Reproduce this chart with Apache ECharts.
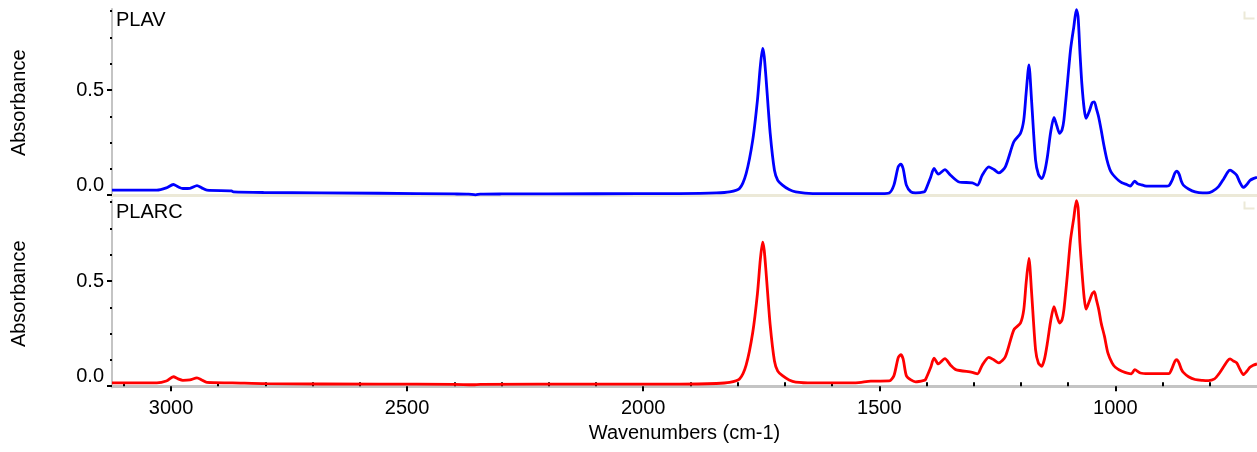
<!DOCTYPE html>
<html>
<head>
<meta charset="utf-8">
<script src="https://cdn.jsdelivr.net/npm/echarts@6/dist/echarts.min.js"></script>
<style>
  html, body { margin: 0; padding: 0; background: #ffffff; }
  #chart { width: 1257px; height: 452px; }
</style>
</head>
<body>
<div id="chart"></div>
<script>
// ---- FTIR spectra: PLAV (top) and PLARC (bottom) ----
const panelNames = ['PLAV', 'PLARC'];
const xAxisTitle = 'Wavenumbers (cm-1)';
const yAxisTitle = 'Absorbance';

const xMajorTicks = [3000, 2500, 2000, 1500, 1000];
const xMinorTicks = [800, 900, 1100, 1200, 1300, 1400, 1600, 1700, 1800, 1900,
                     2100, 2200, 2300, 2400, 2600, 2700, 2800, 2900, 3100];
const yMajorTicks = [0, 0.5];
const yMinorTicks = [0.125, 0.25, 0.375, 0.625, 0.75, 0.875];

const plavWavenumbers = [
  3125, 3118, 3030, 3010, 2995, 2985, 2975, 2960, 2945, 2935, 2924, 2872, 2868, 2804, 2560,
  2400, 2370, 2355, 2345, 2300, 2100, 1923, 1845, 1817, 1796, 1782, 1768, 1758, 1752, 1747,
  1743.6, 1739, 1731, 1722, 1715, 1705, 1691, 1677, 1641, 1494, 1479, 1469, 1460, 1454.5, 1449.5,
  1442.6, 1433, 1423, 1405, 1402, 1391, 1384, 1375, 1361, 1349, 1331, 1303, 1292, 1282, 1268,
  1257, 1247, 1233, 1215, 1201, 1194, 1189, 1183, 1177.5, 1169, 1163, 1156, 1150, 1144, 1137,
  1130, 1124, 1118, 1113, 1109, 1102, 1095, 1088, 1082.5, 1079, 1075, 1071, 1066, 1062, 1055,
  1049, 1044.5, 1040, 1035.5, 1030, 1025, 1018, 1012, 1007, 1000, 993, 986, 975, 968, 962,
  959, 953, 947, 938, 930, 900, 887, 880, 874, 870, 865, 860, 856, 845, 831,
  815, 806, 795, 782, 770, 762, 757, 750, 743, 736, 729, 722, 715, 708, 700
];
const plavAbsorbance = [
  0.024, 0.024, 0.024, 0.035, 0.051, 0.040, 0.032, 0.033, 0.046, 0.035, 0.024, 0.021, 0.016, 0.013, 0.0095,
  0.006, 0.005, 0.002, 0.005, 0.006, 0.007, 0.008, 0.011, 0.016, 0.032, 0.103, 0.262, 0.452, 0.611, 0.698,
  0.659, 0.532, 0.294, 0.119, 0.071, 0.048, 0.027, 0.016, 0.008, 0.008, 0.011, 0.048, 0.135, 0.148, 0.127,
  0.048, 0.016, 0.011, 0.016, 0.024, 0.087, 0.127, 0.100, 0.122, 0.095, 0.063, 0.059, 0.048, 0.095, 0.135,
  0.122, 0.106, 0.135, 0.254, 0.294, 0.357, 0.484, 0.619, 0.452, 0.167, 0.100, 0.079, 0.110, 0.182, 0.300,
  0.370, 0.330, 0.294, 0.310, 0.357, 0.520, 0.690, 0.800, 0.882, 0.850, 0.680, 0.532, 0.410, 0.365, 0.400,
  0.440, 0.444, 0.410, 0.373, 0.310, 0.246, 0.170, 0.125, 0.103, 0.085, 0.070, 0.059, 0.050, 0.044, 0.060,
  0.067, 0.055, 0.051, 0.045, 0.043, 0.043, 0.045, 0.070, 0.105, 0.114, 0.100, 0.065, 0.048, 0.030, 0.016,
  0.011, 0.011, 0.018, 0.040, 0.080, 0.110, 0.119, 0.110, 0.095, 0.060, 0.037, 0.050, 0.070, 0.079, 0.085
];

const plarcWavenumbers = [
  3125, 3030, 3010, 2995, 2985, 2975, 2960, 2945, 2935, 2924, 2870, 2800, 2560, 2400, 2360,
  2345, 2100, 1923, 1845, 1817, 1796, 1782, 1768, 1758, 1752, 1747, 1743.6, 1739, 1731, 1722,
  1715, 1705, 1691, 1677, 1641, 1550, 1518, 1479, 1469, 1460, 1454.5, 1449.5, 1442.6, 1433, 1423,
  1405, 1402, 1391, 1384, 1375, 1361, 1349, 1338, 1303, 1292, 1282, 1268, 1257, 1247, 1233,
  1215, 1201, 1194, 1189, 1183, 1177.5, 1169, 1163, 1156, 1150, 1144, 1137, 1130, 1124, 1118,
  1113, 1109, 1102, 1095, 1088, 1082.5, 1079, 1075, 1071, 1066, 1062, 1055, 1049, 1044.5, 1040,
  1035, 1030, 1023, 1016, 1007, 1000, 986, 966, 959, 947, 930, 887, 880, 874, 870,
  865, 860, 856, 845, 831, 815, 803, 790, 782, 770, 762, 757, 750, 743, 736,
  729, 722, 715, 708, 700
];
const plarcAbsorbance = [
  0.016, 0.016, 0.025, 0.045, 0.035, 0.028, 0.030, 0.040, 0.030, 0.018, 0.016, 0.012, 0.010, 0.009, 0.007,
  0.009, 0.010, 0.010, 0.013, 0.018, 0.034, 0.100, 0.255, 0.440, 0.600, 0.685, 0.645, 0.520, 0.290, 0.120,
  0.072, 0.050, 0.030, 0.020, 0.016, 0.016, 0.024, 0.025, 0.050, 0.135, 0.150, 0.130, 0.050, 0.030, 0.021,
  0.028, 0.032, 0.090, 0.134, 0.106, 0.131, 0.100, 0.079, 0.066, 0.059, 0.100, 0.137, 0.125, 0.111, 0.140,
  0.268, 0.300, 0.363, 0.490, 0.607, 0.450, 0.174, 0.110, 0.095, 0.130, 0.205, 0.310, 0.378, 0.335, 0.300,
  0.315, 0.363, 0.520, 0.694, 0.800, 0.882, 0.850, 0.680, 0.552, 0.420, 0.366, 0.405, 0.440, 0.449, 0.410,
  0.363, 0.300, 0.237, 0.160, 0.111, 0.090, 0.071, 0.059, 0.079, 0.063, 0.060, 0.060, 0.085, 0.118, 0.126,
  0.110, 0.080, 0.066, 0.045, 0.032, 0.028, 0.027, 0.035, 0.055, 0.095, 0.122, 0.130, 0.120, 0.111, 0.080,
  0.055, 0.070, 0.090, 0.100, 0.106
];

const seriesColors = ['#0000ff', '#ff0000'];

// ---- layout / style ----
const FONT = "'Liberation Sans', Arial, sans-serif";
const X_MIN = 700, X_MAX = 3125;
const Y_MIN = -0.006, Y_MAX = 0.885;
const AXIS_GRAY = '#c4c4c4';
const BEIGE = '#ece9d8';

const zip = (xs, ys) => xs.map((x, i) => [x, ys[i]]);

const grids = [
  { left: 112, right: 0, top: 9, height: 187.5 },
  { left: 112, right: 0, top: 200, height: 187.5 }
];

const xAxes = [
  // top panel: only a beige rule along the bottom
  {
    type: 'value', gridIndex: 0, min: X_MIN, max: X_MAX, inverse: true,
    axisLine: { show: true, lineStyle: { color: BEIGE, width: 3 } },
    axisTick: { show: false }, axisLabel: { show: false }, splitLine: { show: false }
  },
  // bottom panel: labelled axis with major ticks
  {
    type: 'value', gridIndex: 1, min: X_MIN, max: X_MAX, inverse: true,
    axisLine: { show: true, lineStyle: { color: AXIS_GRAY, width: 3 } },
    axisTick: { show: true, customValues: xMajorTicks, length: 5, lineStyle: { color: '#000', width: 2 } },
    axisLabel: {
      show: true, customValues: xMajorTicks, fontSize: 20, fontFamily: FONT, color: '#000', margin: 11,
      formatter: v => String(Math.round(v))
    },
    splitLine: { show: false },
    name: xAxisTitle, nameLocation: 'middle', nameGap: 36,
    nameTextStyle: { fontSize: 20, fontFamily: FONT, color: '#000' }
  },
  // bottom panel: minor ticks
  {
    type: 'value', gridIndex: 1, min: X_MIN, max: X_MAX, inverse: true,
    axisLine: { show: false },
    axisTick: { show: true, customValues: xMinorTicks, length: 4, lineStyle: { color: '#000', width: 2 } },
    axisLabel: { show: false }, splitLine: { show: false }
  }
];

const yAxes = [];
[0, 1].forEach(g => {
  yAxes.push({
    type: 'value', gridIndex: g, min: Y_MIN, max: Y_MAX, position: 'left',
    axisLine: { show: true, lineStyle: { color: AXIS_GRAY, width: 2 } },
    axisTick: { show: true, customValues: yMajorTicks, length: 5, lineStyle: { color: '#000', width: 2 } },
    axisLabel: {
      show: true, customValues: [0.5], fontSize: 20, fontFamily: FONT, color: '#000', margin: 8,
      formatter: v => v.toFixed(1)
    },
    splitLine: { show: false },
    name: yAxisTitle, nameLocation: 'middle', nameGap: 83,
    nameTextStyle: { fontSize: 20, fontFamily: FONT, color: '#000' }
  });
  yAxes.push({
    type: 'value', gridIndex: g, min: Y_MIN, max: Y_MAX, position: 'left',
    axisLine: { show: false },
    axisTick: { show: true, customValues: yMinorTicks, length: 2, lineStyle: { color: '#000', width: 2 } },
    axisLabel: {
      show: true, customValues: [0], fontSize: 20, fontFamily: FONT, color: '#000', margin: 8,
      verticalAlign: 'bottom', formatter: v => v.toFixed(1)
    },
    splitLine: { show: false }
  });
});

const lineSeries = (name, data, color, xIdx, yIdx) => ({
  name, type: 'line', data, xAxisIndex: xIdx, yAxisIndex: yIdx,
  showSymbol: false, symbol: 'none', smooth: 0.25, clip: true,
  lineStyle: { color, width: 2.8 }, silent: true, animation: false
});

const chart = echarts.init(document.getElementById('chart'), null, { renderer: 'canvas' });
chart.setOption({
  backgroundColor: '#ffffff',
  animation: false,
  grid: grids,
  xAxis: xAxes,
  yAxis: yAxes,
  title: [
    { text: panelNames[0], left: 116, top: 10, padding: 0,
      textStyle: { fontSize: 20, fontWeight: 'normal', fontFamily: FONT, color: '#000' } },
    { text: panelNames[1], left: 116, top: 202, padding: 0,
      textStyle: { fontSize: 20, fontWeight: 'normal', fontFamily: FONT, color: '#000' } }
  ],
  graphic: [
    { type: 'polyline', right: 0, top: 9, shape: { points: [[0, 0], [0, 7], [10, 7]] },
      style: { stroke: BEIGE, lineWidth: 2, fill: null }, silent: true },
    { type: 'polyline', right: 0, top: 199, shape: { points: [[0, 0], [0, 7], [10, 7]] },
      style: { stroke: BEIGE, lineWidth: 2, fill: null }, silent: true }
  ],
  series: [
    lineSeries(panelNames[0], zip(plavWavenumbers, plavAbsorbance), seriesColors[0], 0, 0),
    lineSeries(panelNames[1], zip(plarcWavenumbers, plarcAbsorbance), seriesColors[1], 1, 2)
  ]
});
</script>
</body>
</html>
